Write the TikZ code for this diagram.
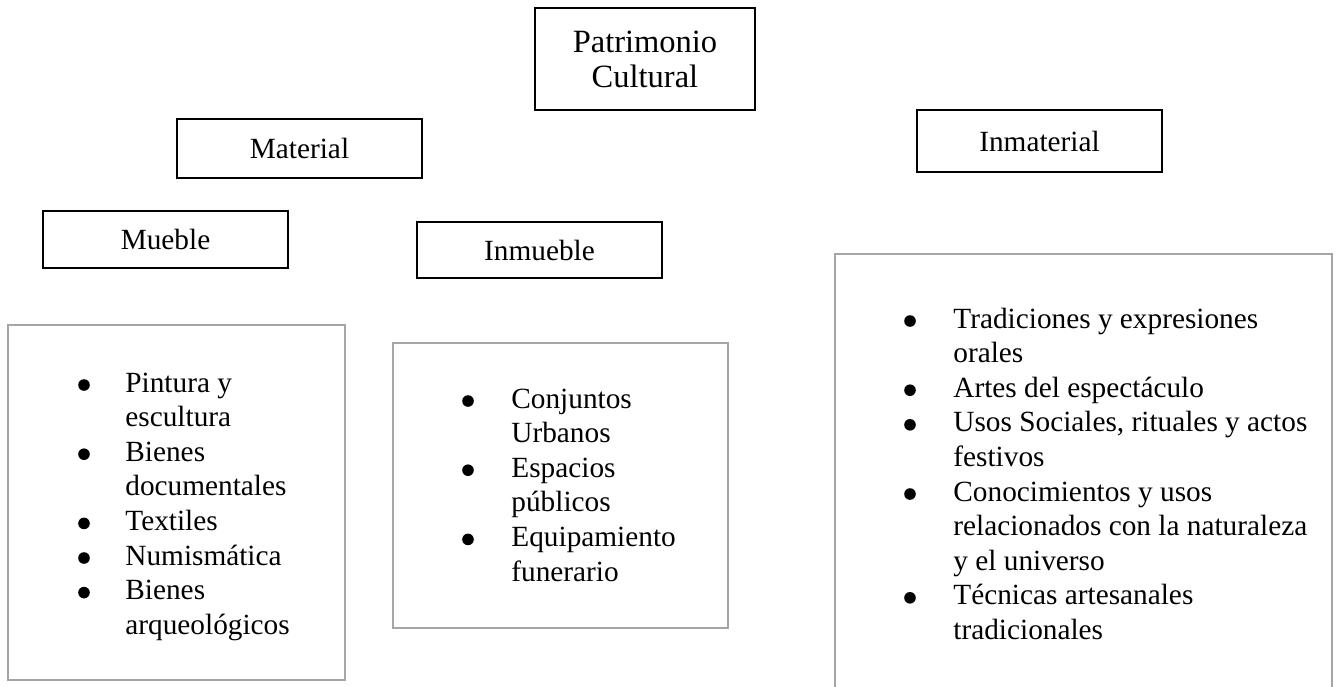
\documentclass[tikz,border=0pt]{standalone}
\usepackage{fontspec}
\setmainfont{Liberation Serif}
\definecolor{boxgray}{RGB}{165,165,165}
\tikzset{
  head/.style={draw=black, line width=1.3pt, inner sep=0pt, font=\fontsize{14.65}{17.3}\selectfont, align=center},
  listbox/.style={draw=boxgray, line width=1.3pt, inner sep=0pt},
  listtext/.style={anchor=base west, inner sep=0pt, font=\fontsize{14.65}{17.3}\selectfont},
  bulletdot/.style={fill=black},
}
\begin{document}
\begin{tikzpicture}[x=0.5pt, y=-0.5pt]
\clip (0,0) rectangle (1339,686);
\useasboundingbox (0,0) rectangle (1339,686);
\fill[white] (0,0) rectangle (1339,686);

\node[head, minimum width=110pt, minimum height=51pt, font=\fontsize{16.25}{17.5}\selectfont] (pat) at (645,59) {Patrimonio\\Cultural};
\node[head, minimum width=122.5pt, minimum height=29.5pt] (mat) at (299.5,148.5) {Material};
\node[head, minimum width=122.5pt, minimum height=31pt] (inmat) at (1039.5,141) {Inmaterial};
\node[head, minimum width=122.5pt, minimum height=28.5pt] (mue) at (165.5,239.5) {Mueble};
\node[head, minimum width=122.5pt, minimum height=28pt] (inm) at (539.5,250) {Inmueble};

\node[listbox, minimum width=168.5pt, minimum height=177.5pt] (gl) at (176.5,502.5) {};
\node[listbox, minimum width=167.5pt, minimum height=142.5pt] (gm) at (560.5,485.5) {};
\node[listbox, minimum width=248.5pt, minimum height=233pt] (gr) at (1083.5,487) {};

\node[listtext] (ll) at (125,392) {\begin{tabular}[t]{@{}l@{}}
Pintura y\\
escultura\\
Bienes\\
documentales\\
Textiles\\
Numismática\\
Bienes\\
arqueológicos
\end{tabular}};

\node[listtext] (lm) at (511,408) {\begin{tabular}[t]{@{}l@{}}
Conjuntos\\
Urbanos\\
Espacios\\
públicos\\
Equipamiento\\
funerario
\end{tabular}};

\node[listtext] (lr) at (953,328) {\begin{tabular}[t]{@{}l@{}}
Tradiciones y expresiones\\
orales\\
Artes del espectáculo\\
Usos Sociales, rituales y actos\\
festivos\\
Conocimientos y usos\\
relacionados con la naturaleza\\
y el universo\\
Técnicas artesanales\\
tradicionales
\end{tabular}};

\foreach \yy in {385,454.2,523.4,558,592.6}
  \fill[bulletdot] (84,\yy) circle[radius=2.9pt];
\foreach \yy in {401,470.2,539.4}
  \fill[bulletdot] (468,\yy) circle[radius=2.9pt];
\foreach \yy in {321,390.2,424.8,494,597.8}
  \fill[bulletdot] (910,\yy) circle[radius=2.9pt];
\end{tikzpicture}
\end{document}
